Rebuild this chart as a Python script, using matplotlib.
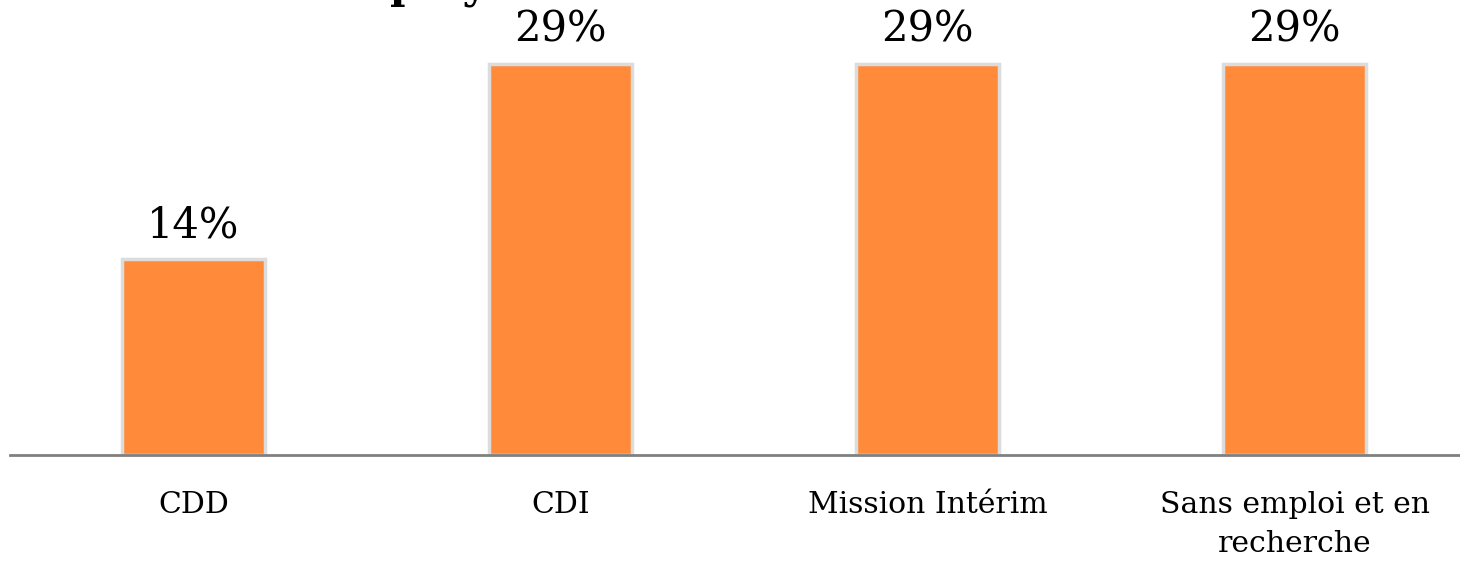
import matplotlib.pyplot as plt

categories = ["CDD", "CDI", "Mission Intérim", "Sans emploi et en\nrecherche"]
values = [14.29, 28.57, 28.57, 28.57]
value_labels = ["14%", "29%", "29%", "29%"]
title = "Taux d'employabilité"

plt.rcParams['font.family'] = ['DejaVu Serif']

fig = plt.figure(figsize=(14.6, 5.66), dpi=100)
ax = fig.add_axes([10 / 1460, 111 / 566, 1468 / 1460, 410.6 / 566])

x = range(len(categories))
bars = ax.bar(x, values, width=0.392, color='#FE8A3A',
              edgecolor='#dcdcdc', linewidth=2.5, zorder=2)

for b, lab in zip(bars, value_labels):
    ax.annotate(lab, (b.get_x() + b.get_width() / 2, b.get_height()),
                xytext=(0, 22), textcoords='offset pixels',
                ha='center', va='baseline', fontsize=30)

ax.set_xlim(-0.5, 3.5)
ax.set_ylim(0, 30)
ax.set_xticks(list(x))
ax.set_xticklabels(categories, fontsize=21.5, linespacing=1.5)
ax.tick_params(axis='x', length=0, pad=26)
ax.set_yticks([])
for s in ['top', 'left', 'right']:
    ax.spines[s].set_visible(False)
ax.spines['bottom'].set_color('#808080')
ax.spines['bottom'].set_linewidth(2)
ax.spines['bottom'].set_zorder(3)

# title is cut off by the top edge of the picture
fig.text(0.5 - 335 / 1460, 1 + 2 / 566, title, ha='center', va='baseline',
         fontsize=30, fontweight='bold')

fig.savefig('out.png', dpi=100)
